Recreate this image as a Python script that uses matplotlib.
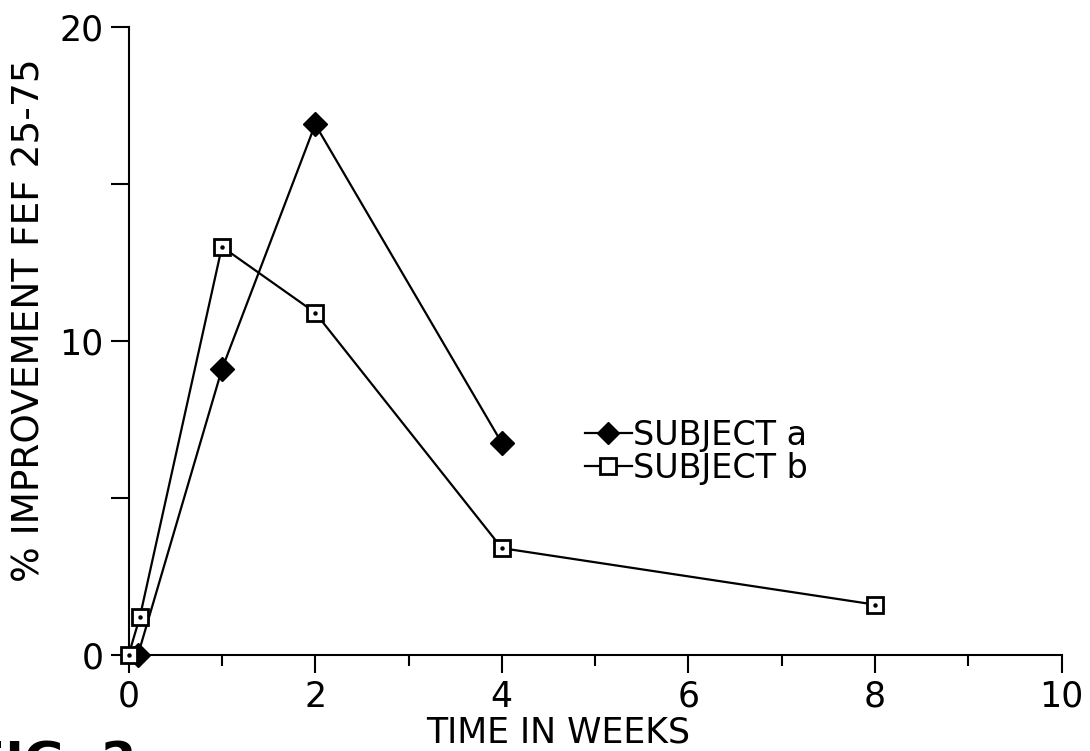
import matplotlib
matplotlib.use('Agg')
import matplotlib.pyplot as plt
from matplotlib.lines import Line2D
from matplotlib.ticker import MultipleLocator

# data
weeks_a = [0.1, 1, 2, 4]
subject_a = [0.0, 9.1, 16.9, 6.75]
weeks_b = [0.0, 0.12, 1, 2, 4, 8]
subject_b = [0.0, 1.2, 13.0, 10.9, 3.4, 1.6]

xticks = [0, 2, 4, 6, 8, 10]
yticks = [0, 10, 20]

plt.rcParams['font.family'] = ['DejaVu Sans']

fig = plt.figure(figsize=(10.9, 7.51), dpi=100, facecolor='white')
ax = fig.add_axes([0.118, 0.128, 0.856, 0.836])

lw = 1.6
ax.plot(weeks_a, subject_a, color='black', lw=lw, marker='D', markersize=12,
        markerfacecolor='black', markeredgecolor='black', clip_on=False, zorder=3)
ax.plot(weeks_b, subject_b, color='black', lw=lw, marker='s', markersize=12,
        markerfacecolor='white', markeredgecolor='black', markeredgewidth=2,
        clip_on=False, zorder=4)
# little dot in the middle of each open square
ax.plot(weeks_b, subject_b, linestyle='none', marker='o', markersize=2.2,
        color='black', clip_on=False, zorder=5)

ax.set_xlim(0, 10)
ax.set_ylim(0, 20)
ax.set_xticks(xticks)
ax.set_yticks(yticks)
ax.xaxis.set_minor_locator(MultipleLocator(1))
ax.yaxis.set_minor_locator(MultipleLocator(5))
ax.tick_params(which='major', direction='out', length=13, width=1.5,
               labelsize=25, pad=5)
ax.tick_params(which='minor', direction='out', length=8, width=1.5)
ax.tick_params(axis='y', which='minor', length=13)

for s in ['top', 'right']:
    ax.spines[s].set_visible(False)
for s in ['left', 'bottom']:
    ax.spines[s].set_linewidth(1.5)

ax.set_xlabel('TIME IN WEEKS', fontsize=25)
ax.xaxis.set_label_coords(0.46, -0.097)
ax.set_ylabel('% IMPROVEMENT FEF 25-75', fontsize=27)
ax.yaxis.set_label_coords(-0.087, 0.533)

handles = [
    Line2D([], [], color='black', lw=lw, marker='D', markersize=11,
           markerfacecolor='black'),
    Line2D([], [], color='black', lw=lw, marker='s', markersize=11,
           markerfacecolor='white', markeredgewidth=2),
]
ax.legend(handles, ['SUBJECT a', 'SUBJECT b'], loc='upper left',
          bbox_to_anchor=(0.489, 0.376), frameon=False, fontsize=24,
          handlelength=1.4, handletextpad=0.05, labelspacing=0.0,
          borderpad=0, borderaxespad=0)

fig.text(-0.027, 1 - 740 / 751, 'FIG. 2', fontsize=36, fontweight='bold',
         va='top', ha='left')

fig.savefig('out.png', dpi=100, facecolor='white')
